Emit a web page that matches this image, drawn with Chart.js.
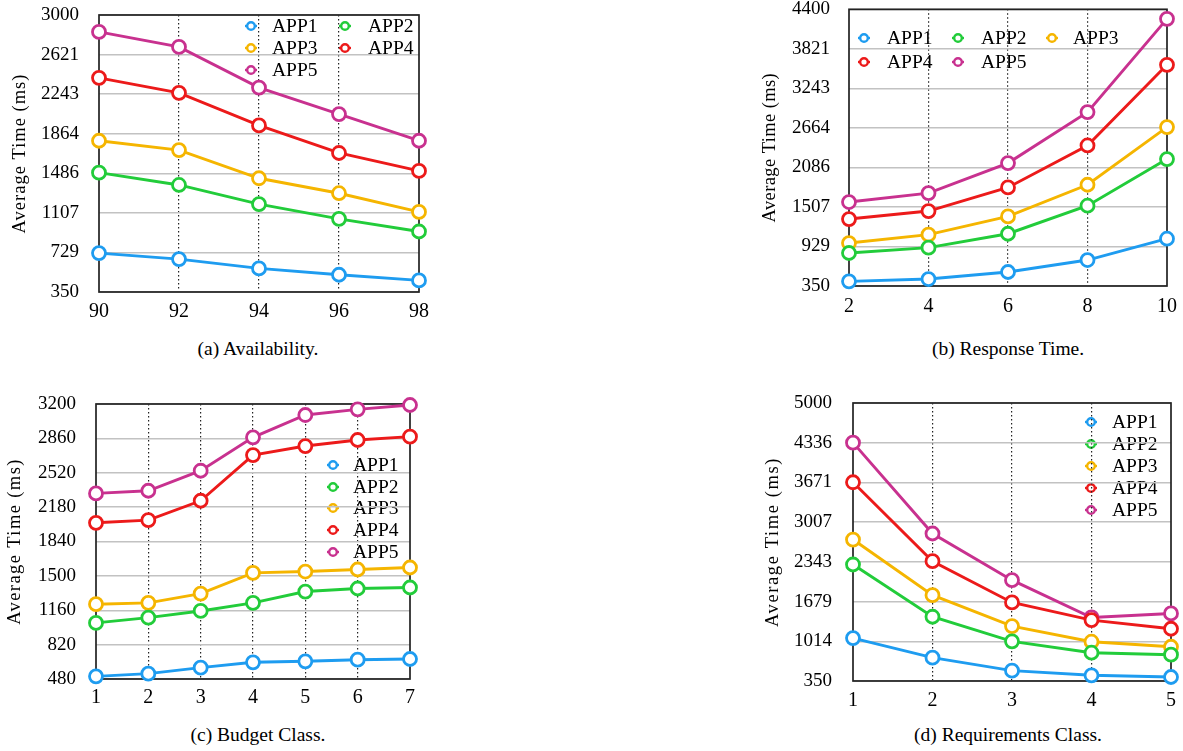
<!DOCTYPE html>
<html><head><meta charset="utf-8">
<script src="https://cdn.jsdelivr.net/npm/chart.js@4/dist/chart.umd.min.js"></script>
<style>
html,body{margin:0;padding:0;background:#fff}
body{width:1183px;height:751px;position:relative;overflow:hidden;font-family:'Liberation Serif','Times New Roman',serif}
canvas{position:absolute;display:block}
.cap{position:absolute;font-size:19.5px;line-height:22px;color:#000;transform:translateX(-50%);white-space:nowrap}
</style></head><body>
<canvas id="ca" style="left:0px;top:0px"></canvas>
<canvas id="cb" style="left:740px;top:0px"></canvas>
<canvas id="cc" style="left:0px;top:380px"></canvas>
<canvas id="cd" style="left:740px;top:380px"></canvas>
<div class="cap" style="left:258px;top:338px">(a) Availability.</div>
<div class="cap" style="left:1008px;top:338px">(b) Response Time.</div>
<div class="cap" style="left:258px;top:724px">(c) Budget Class.</div>
<div class="cap" style="left:1008px;top:724px">(d) Requirements Class.</div>
<script>
const seriesNames = ['APP1','APP2','APP3','APP4','APP5'];
const yTitle = 'Average Time (ms)';

const availabilityLabels = ['90','92','94','96','98'];
const availabilityTicks = [350,729,1107,1486,1864,2243,2621,3000];
const availabilityApp1 = [722,665,576,515,461];
const availabilityApp2 = [1492,1374,1190,1050,929];
const availabilityApp3 = [1797,1708,1438,1295,1116];
const availabilityApp4 = [2399,2255,1944,1680,1508];
const availabilityApp5 = [2838,2695,2306,2052,1797];

const responseLabels = ['2','4','6','8','10'];
const responseTicks = [350,929,1507,2086,2664,3243,3821,4400];
const responseApp1 = [418,452,555,730,1042];
const responseApp2 = [833,911,1115,1525,2208];
const responseApp3 = [979,1101,1369,1832,2676];
const responseApp4 = [1330,1447,1793,2407,3587];
const responseApp5 = [1579,1710,2149,2895,4260];

const budgetLabels = ['1','2','3','4','5','6','7'];
const budgetTicks = [480,820,1160,1500,1840,2180,2520,2860,3200];
const budgetApp1 = [506,533,592,645,655,671,678];
const budgetApp2 = [1035,1087,1153,1233,1345,1375,1385];
const budgetApp3 = [1220,1233,1325,1530,1543,1563,1583];
const budgetApp4 = [2025,2051,2243,2695,2784,2844,2877];
const budgetApp5 = [2316,2342,2540,2870,3091,3147,3190];

const requirementsLabels = ['1','2','3','4','5'];
const requirementsTicks = [350,1014,1679,2343,3007,3671,4336,5000];
const requirementsApp1 = [1068,740,523,445,417];
const requirementsApp2 = [2299,1425,1013,823,790];
const requirementsApp3 = [2716,1786,1269,1007,923];
const requirementsApp4 = [3674,2354,1664,1369,1224];
const requirementsApp5 = [4337,2817,2037,1413,1480];

// styling (kept separate from data)
const seriesColors = ['#1e9cf0','#22cc3a','#f5b500','#ec1a1a','#c8318f'];
const FONT = "'Liberation Serif','Times New Roman',serif";

function buildChart(id, g, labels, ticks, series, legend, title){
  const canvas = document.getElementById(id);
  canvas.width = g.w; canvas.height = g.h;
  canvas.style.width = g.w + 'px'; canvas.style.height = g.h + 'px';
  const datasets = series.map((data, i) => ({
    label: seriesNames[i], data,
    borderColor: seriesColors[i], backgroundColor: seriesColors[i],
    pointBackgroundColor: '#ffffff', pointBorderColor: seriesColors[i],
    pointRadius: 6.5, pointHoverRadius: 6.5, pointBorderWidth: 2.8,
    borderWidth: 2.9, tension: 0, clip: false
  }));
  const decor = {
    id: 'decor',
    beforeDraw(chart){
      const ctx = chart.ctx, a = chart.chartArea;
      ctx.save();
      ctx.font = '19.5px ' + FONT;
      ctx.textBaseline = 'middle';
      ctx.textAlign = 'left';
      legend.forEach((p, i) => {
        ctx.strokeStyle = seriesColors[i];
        ctx.lineWidth = 2.4;
        ctx.beginPath(); ctx.moveTo(p[0]-6, p[1]); ctx.lineTo(p[0]+6, p[1]); ctx.stroke();
        ctx.beginPath(); ctx.arc(p[0], p[1], 3.8, 0, Math.PI*2);
        ctx.fillStyle = '#fff'; ctx.fill(); ctx.stroke();
        ctx.fillStyle = '#000';
        ctx.fillText(seriesNames[i], p[2], p[1] + 1);
      });
      ctx.translate(title.x, (a.top + a.bottom) / 2);
      ctx.rotate(-Math.PI/2);
      ctx.font = '18.5px ' + FONT;
      ctx.letterSpacing = title.ls + 'px';
      ctx.textAlign = 'center';
      ctx.textBaseline = 'middle';
      ctx.fillStyle = '#000';
      ctx.fillText(yTitle, 0, 0);
      ctx.restore();
    },
    beforeDatasetsDraw(chart){
      const ctx = chart.ctx, a = chart.chartArea;
      ctx.save();
      ctx.setLineDash([]);
      ctx.strokeStyle = '#222'; ctx.lineWidth = 1.7;
      ctx.strokeRect(a.left, a.top, a.right - a.left, a.bottom - a.top);
      ctx.restore();
    }
  };
  const n = labels.length;
  return new Chart(canvas, {
    type: 'line',
    data: { labels, datasets },
    options: {
      responsive: false, animation: false, events: [],
      devicePixelRatio: 1,
      layout: { padding: { left: 0, top: g.top, right: g.w - g.right, bottom: 0 } },
      plugins: { legend: { display: false }, tooltip: { enabled: false } },
      scales: {
        x: {
          type: 'category', offset: false,
          border: { display: false, dash: [1.5, 2.5] },
          grid: {
            drawTicks: false, lineWidth: 1.2,
            color: c => (c.index === 0 || c.index === n - 1) ? 'rgba(0,0,0,0)' : '#222',
          },
          ticks: { color: '#000', font: { family: FONT, size: 20 }, padding: g.xpad, maxRotation: 0, autoSkip: false },
          afterFit: s => { s.height = g.h - g.bottom; s.paddingLeft = 0; s.paddingRight = 0; }
        },
        y: {
          type: 'linear', min: ticks[0], max: ticks[ticks.length - 1],
          border: { display: false },
          grid: { drawTicks: false, color: '#c2c2c2', lineWidth: 1.5 },
          ticks: { color: '#000', font: { family: FONT, size: 19 }, padding: g.ypad, autoSkip: false,
                   callback: v => String(v) },
          afterBuildTicks: s => { s.ticks = ticks.map(v => ({ value: v })); },
          afterFit: s => { s.width = g.left; s.paddingTop = 0; s.paddingBottom = 0; }
        }
      }
    },
    plugins: [decor]
  });
}

const ga = { w:440, h:330, left:99, top:15, right:419, bottom:292, xpad:8, ypad:20 };
const gb = { w:443, h:330, left:109, top:7, right:427, bottom:286, xpad:9, ypad:19 };
const gc = { w:440, h:330, left:96, top:24, right:410, bottom:299, xpad:7, ypad:20 };
const gd = { w:443, h:330, left:113, top:23, right:431, bottom:301, xpad:8, ypad:21 };

buildChart('ca', ga, availabilityLabels, availabilityTicks,
  [availabilityApp1, availabilityApp2, availabilityApp3, availabilityApp4, availabilityApp5],
  [[251,26,272],[345,26,368],[251,48,272],[345,48,368],[251,70,272]], { x:20, ls:1.0 });
buildChart('cb', gb, responseLabels, responseTicks,
  [responseApp1, responseApp2, responseApp3, responseApp4, responseApp5],
  [[124,38,147],[218,38,241],[312,38,333],[124,62,147],[218,62,241]], { x:30, ls:0.4 });
buildChart('cc', gc, budgetLabels, budgetTicks,
  [budgetApp1, budgetApp2, budgetApp3, budgetApp4, budgetApp5],
  [[333,85,353],[333,107,353],[333,128,353],[333,150,353],[333,172,353]], { x:15, ls:1.4 });
buildChart('cd', gd, requirementsLabels, requirementsTicks,
  [requirementsApp1, requirementsApp2, requirementsApp3, requirementsApp4, requirementsApp5],
  [[351,42,372],[351,64,372],[351,86,372],[351,108,372],[351,130,372]], { x:33, ls:1.6 });
</script>
</body></html>
